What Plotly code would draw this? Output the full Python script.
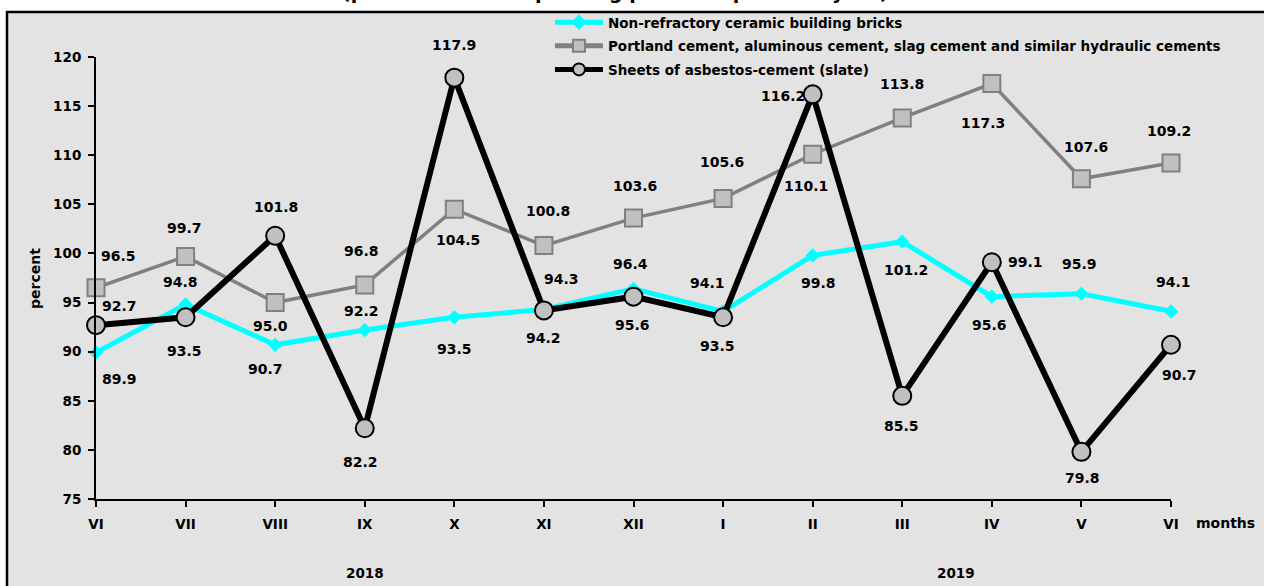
import plotly.graph_objects as go

# Month-on-month production indices, June 2018 - June 2019
months = ["VI", "VII", "VIII", "IX", "X", "XI", "XII", "I", "II", "III", "IV", "V", "VI"]
years = ["2018", "2019"]
year_centers = [3, 9.6]

bricks = [89.9, 94.8, 90.7, 92.2, 93.5, 94.3, 96.4, 94.1, 99.8, 101.2, 95.6, 95.9, 94.1]
cement = [96.5, 99.7, 95.0, 96.8, 104.5, 100.8, 103.6, 105.6, 110.1, 113.8, 117.3, 107.6, 109.2]
slate = [92.7, 93.5, 101.8, 82.2, 117.9, 94.2, 95.6, 93.5, 116.2, 85.5, 99.1, 79.8, 90.7]

names = [
    "Non-refractory ceramic building bricks",
    "Portland cement, aluminous cement, slag cement and similar hydraulic cements",
    "Sheets of asbestos-cement (slate)",
]

# pixel offsets (dx, dy-up) of each value label from its point
bricks_off = [(23, -26), (-5, 23), (-10, -24), (-3, 19), (0, -32), (18, 30), (-3, 25),
              (-16, 28), (6, -28), (4, -28), (-2, -28), (-2, 30), (2, 29)]
cement_off = [(22, 32), (-1, 28), (-5, -23), (-3, 34), (4, -31), (4, 35), (1, 32),
              (-1, 36), (-7, -32), (0, 34), (-9, -39), (5, 32), (-2, 32)]
slate_off = [(23, 19), (-1, -34), (1, 29), (-4, -34), (0, 33), (0, -28), (-1, -28),
             (-6, -29), (-30, -2), (-1, -30), (34, 0), (1, -26), (8, -30)]

FONT = "DejaVu Sans"
BG = "#e3e3e3"
x = list(range(len(months)))

fig = go.Figure()

fig.add_trace(go.Scatter(
    x=x, y=bricks, name=names[0], mode="lines+markers", legendgroup="a",
    line=dict(color="#00ffff", width=5),
    marker=dict(symbol="diamond", size=11, color="#00ffff"),
    cliponaxis=False,
))
fig.add_trace(go.Scatter(
    x=x, y=cement, name=names[1], mode="lines+markers", legendgroup="b",
    line=dict(color="#808080", width=3.5),
    marker=dict(symbol="square", size=17, color="#c0c0c0",
                line=dict(color="#808080", width=2)),
    cliponaxis=False,
))
fig.add_trace(go.Scatter(
    x=x, y=slate, name=names[2], mode="lines+markers", legendgroup="c",
    line=dict(color="#000000", width=6),
    marker=dict(symbol="circle", size=18, color="#c0c0c0",
                line=dict(color="#000000", width=2)),
    cliponaxis=False,
))

annotations = []
for series, offs in ((bricks, bricks_off), (cement, cement_off), (slate, slate_off)):
    for i, (v, (dx, dy)) in enumerate(zip(series, offs)):
        annotations.append(dict(
            x=i, y=v, xref="x", yref="y", text=f"{v:.1f}", showarrow=False,
            xshift=dx, yshift=dy,
            font=dict(family=FONT, size=14, color="black", weight="bold"),
        ))

for yr, xc in zip(years, year_centers):
    annotations.append(dict(
        x=xc, y=(499 - 573) / 442, xref="x", yref="paper", text=yr, showarrow=False,
        yanchor="middle",
        font=dict(family=FONT, size=13.5, color="black", weight="bold"),
    ))

annotations.append(dict(
    x=(1194 - 96) / 1075, y=(499 - 523) / 442, xref="paper", yref="paper",
    text="months", showarrow=False, xanchor="left", yanchor="middle",
    font=dict(family=FONT, size=14, color="black", weight="bold"),
))
annotations.append(dict(
    x=(35 - 96) / 1075, y=(499 - 279) / 442, xref="paper", yref="paper",
    text="percent", showarrow=False, xanchor="center", yanchor="middle",
    textangle=-90, font=dict(family=FONT, size=14, color="black", weight="bold"),
))
# chart heading, sitting mostly above the top edge of the page
annotations.append(dict(
    x=0.4828, y=(499 - 5) / 442, xref="paper", yref="paper", yanchor="bottom",
    text="(percent of corresponding period of previous year)", showarrow=False,
    font=dict(family=FONT, size=19, color="black", weight="bold"),
))

axis_font = dict(family=FONT, size=13.5, color="black", weight="bold")

fig.update_layout(
    width=1264, height=586,
    margin=dict(l=96, r=93, t=57, b=87, pad=0, autoexpand=False),
    paper_bgcolor="white",
    plot_bgcolor=BG,
    showlegend=True,
    legend=dict(
        x=0.4223, y=(499 - 7) / 442, xanchor="left", yanchor="top",
        bgcolor="rgba(0,0,0,0)", borderwidth=0,
        font=dict(family=FONT, size=13.5, color="black", weight="bold"),
        itemwidth=48, tracegroupgap=3, itemsizing="constant",
    ),
    xaxis=dict(
        range=[0, 12], tickvals=x, ticktext=months,
        showline=True, linecolor="black", linewidth=2,
        ticks="outside", ticklen=6, tickwidth=2, tickcolor="black",
        showgrid=False, zeroline=False, tickfont=axis_font,
        ticklabelstandoff=6,
    ),
    yaxis=dict(
        range=[75, 120], dtick=5, tick0=75,
        showline=True, linecolor="black", linewidth=2,
        ticks="outside", ticklen=6, tickwidth=2, tickcolor="black",
        showgrid=False, zeroline=False, tickfont=axis_font,
        ticklabelstandoff=4,
    ),
    annotations=annotations,
    shapes=[dict(
        type="rect", xref="paper", yref="paper", layer="below",
        x0=(7 - 96) / 1075, x1=(1268 - 96) / 1075,
        y0=(499 - 590) / 442, y1=(499 - 12) / 442,
        line=dict(color="black", width=2.5), fillcolor=BG,
    )],
)

fig.write_html("out.html")
